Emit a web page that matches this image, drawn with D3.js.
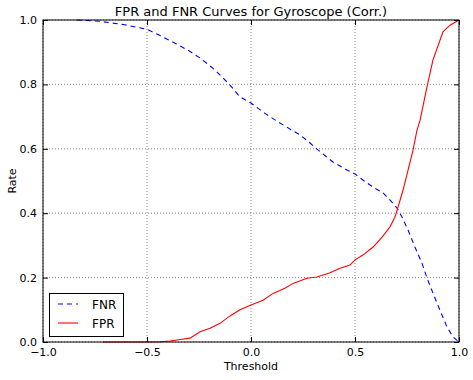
<!DOCTYPE html>
<html><head><meta charset="utf-8">
<script src="https://cdn.jsdelivr.net/npm/d3@7"></script>
<style>body{margin:0;background:#fff}svg{display:block}text{font-family:"DejaVu Sans",sans-serif;fill:#000}</style>
</head><body>
<script>
const title = "FPR and FNR Curves for Gyroscope (Corr.)";
const xTicks = [-1.0, -0.5, 0.0, 0.5, 1.0];
const yTicks = [0.0, 0.2, 0.4, 0.6, 0.8, 1.0];
const fnrThreshold = [-0.837,-0.726,-0.606,-0.5,-0.4375,-0.365,-0.30,-0.245,-0.173,-0.101,-0.053,0.0,0.067,0.139,0.236,0.284,0.317,0.394,0.462,0.5,0.538,0.587,0.635,0.668,0.702,0.726,0.755,0.788,0.822,0.846,0.894,0.942,0.971,1.0];
const fnrValues = [1.0,0.996,0.985,0.971,0.952,0.928,0.905,0.882,0.845,0.798,0.761,0.742,0.71,0.68,0.643,0.618,0.599,0.559,0.534,0.522,0.503,0.481,0.463,0.441,0.416,0.388,0.348,0.295,0.245,0.199,0.121,0.047,0.016,0.0];
const fprThreshold = [-0.712,-0.5,-0.4375,-0.389,-0.341,-0.293,-0.245,-0.197,-0.149,-0.101,-0.053,0.0,0.058,0.106,0.163,0.202,0.269,0.317,0.380,0.428,0.476,0.5,0.538,0.587,0.630,0.668,0.692,0.707,0.731,0.755,0.779,0.798,0.813,0.846,0.875,0.923,0.957,1.0];
const fprValues = [0,0,0.001,0.003,0.008,0.012,0.032,0.043,0.058,0.081,0.1,0.115,0.13,0.151,0.167,0.182,0.198,0.202,0.215,0.229,0.239,0.255,0.27,0.295,0.326,0.357,0.388,0.419,0.472,0.534,0.596,0.658,0.689,0.792,0.876,0.963,0.984,1.0];

const W=473,H=380;
const m={l:43,r:14,t:20,b:38};
const svg=d3.select("body").append("svg").attr("width",W).attr("height",H);
const x=d3.scaleLinear().domain([-1,1]).range([m.l,W-m.r]);
const y=d3.scaleLinear().domain([0,1]).range([H-m.b,m.t]);
const fmt=v=>(v<0?"\u2212":"")+Math.abs(v).toFixed(1);

// grid
const g=svg.append("g");
g.selectAll(".gx").data(xTicks).join("line").attr("x1",d=>x(d)).attr("x2",d=>x(d)).attr("y1",y(0)).attr("y2",y(1))
 .attr("stroke","#888").attr("stroke-width",1).attr("stroke-dasharray","1,2");
g.selectAll(".gy").data(yTicks).join("line").attr("y1",d=>y(d)).attr("y2",d=>y(d)).attr("x1",x(-1)).attr("x2",x(1))
 .attr("stroke","#888").attr("stroke-width",1).attr("stroke-dasharray","1,2");

// lines
const fnr=fnrThreshold.map((t,i)=>[t,fnrValues[i]]);
const fpr=fprThreshold.map((t,i)=>[t,fprValues[i]]);
const line=d3.line().x(d=>x(d[0])).y(d=>y(d[1]));
svg.append("path").datum(fnr).attr("d",line).attr("fill","none").attr("stroke","#0000ff").attr("stroke-width",1.1).attr("stroke-dasharray","5,4");
svg.append("path").datum(fpr).attr("d",line).attr("fill","none").attr("stroke","#ff0000").attr("stroke-width",1.1);

// axes with inward ticks
const axB=svg.append("g").attr("transform",`translate(0,${y(0)})`).call(d3.axisBottom(x).tickValues(xTicks).tickSize(-5).tickPadding(6).tickFormat(fmt));
const axT=svg.append("g").attr("transform",`translate(0,${y(1)})`).call(d3.axisTop(x).tickValues(xTicks).tickSize(-5).tickFormat(""));
const axL=svg.append("g").attr("transform",`translate(${x(-1)},0)`).call(d3.axisLeft(y).tickValues(yTicks).tickSize(-5).tickPadding(6).tickFormat(fmt));
const axR=svg.append("g").attr("transform",`translate(${x(1)},0)`).call(d3.axisRight(y).tickValues(yTicks).tickSize(-5).tickFormat(""));
[axB,axT,axL,axR].forEach(a=>{a.select(".domain").remove();a.selectAll("line").attr("stroke","#000");a.selectAll("text").attr("font-size",11).attr("font-family","DejaVu Sans").attr("fill","#000");});
svg.append("rect").attr("x",x(-1)).attr("y",y(1)).attr("width",x(1)-x(-1)).attr("height",y(0)-y(1)).attr("fill","none").attr("stroke","#000").attr("stroke-width",1);

svg.append("text").attr("x",(x(-1)+x(1))/2).attr("y",16).attr("text-anchor","middle").attr("font-size",13).text(title);
svg.append("text").attr("x",(x(-1)+x(1))/2).attr("y",370).attr("text-anchor","middle").attr("font-size",11).text("Threshold");
svg.append("text").attr("transform",`translate(16,${(y(0)+y(1))/2}) rotate(-90)`).attr("text-anchor","middle").attr("font-size",11).text("Rate");

// legend
const lg=svg.append("g");
lg.append("rect").attr("x",49.5).attr("y",293.5).attr("width",74).attr("height",43).attr("fill","#fff").attr("stroke","#000");
const items=[["FNR","#0000ff","5,4"],["FPR","#ff0000",null]];
items.forEach((it,i)=>{
  const yy=304+i*19;
  const l=lg.append("line").attr("x1",58).attr("x2",78).attr("y1",yy).attr("y2",yy).attr("stroke",it[1]).attr("stroke-width",1.1);
  if(it[2]) l.attr("stroke-dasharray",it[2]);
  lg.append("text").attr("x",92).attr("y",yy+4.5).attr("font-size",12).text(it[0]);
});
</script>
</body></html>
